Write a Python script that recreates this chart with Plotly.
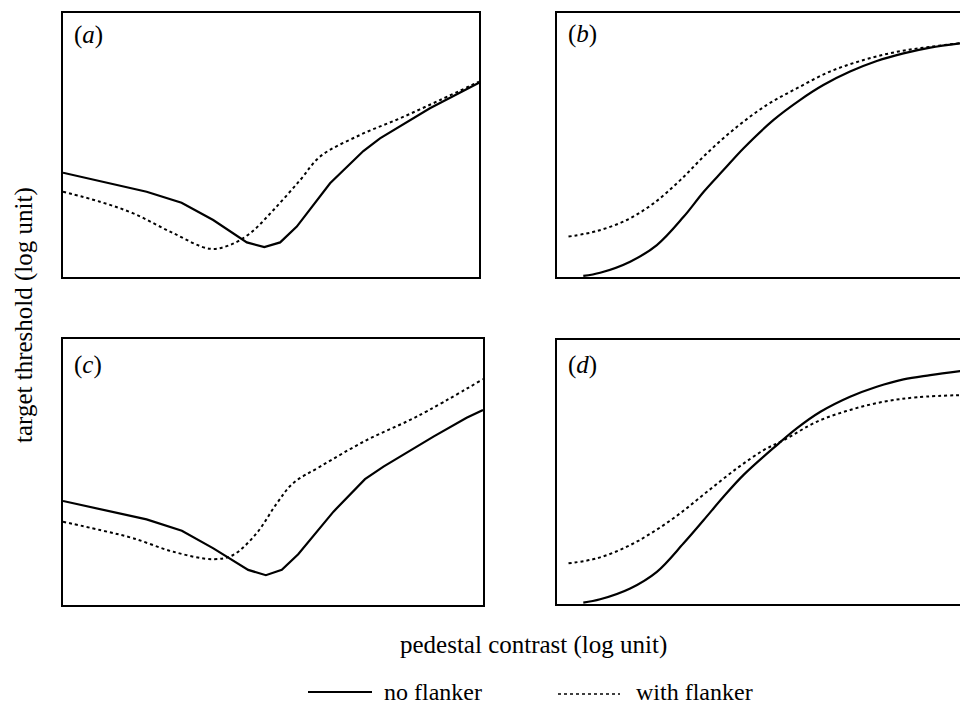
import plotly.graph_objects as go

# ---- data (arbitrary log units, 0..10 per panel) ----
a_solid_x = [0, 2.01, 2.85, 3.61, 4.42, 4.84, 5.22, 5.62, 6.42, 7.22, 7.62, 8.82, 10]
a_solid_y = [3.95, 3.23, 2.81, 2.16, 1.31, 1.13, 1.31, 1.91, 3.55, 4.77, 5.25, 6.39, 7.36]
a_dot_x = [0, 0.89, 1.69, 2.65, 3.53, 4.01, 4.50, 5.06, 5.70, 6.18, 7.14, 8.10, 9.06, 10]
a_dot_y = [3.23, 2.85, 2.41, 1.66, 1.07, 1.21, 1.66, 2.54, 3.67, 4.56, 5.38, 6.01, 6.70, 7.40]

b_solid_x = [0.64, 1.05, 1.78, 2.43, 3.08, 3.57, 4.05, 4.54, 5.27, 5.91, 6.48, 7.13, 7.78, 8.43, 9.08, 10]
b_solid_y = [0.04, 0.16, 0.58, 1.21, 2.28, 3.23, 4.05, 4.88, 5.95, 6.70, 7.27, 7.78, 8.18, 8.47, 8.69, 8.89]
b_dot_x = [0.28, 0.97, 1.70, 2.35, 3.00, 3.65, 4.38, 5.11, 5.84, 6.64, 7.46, 8.27, 9.08, 10]
b_dot_y = [1.53, 1.74, 2.16, 2.79, 3.67, 4.69, 5.69, 6.52, 7.15, 7.78, 8.22, 8.53, 8.72, 8.89]

c_solid_x = [0, 1.99, 2.83, 3.58, 4.41, 4.83, 5.21, 5.60, 6.44, 7.19, 7.63, 8.82, 9.61, 10]
c_solid_y = [3.91, 3.22, 2.79, 2.13, 1.32, 1.12, 1.32, 1.91, 3.51, 4.73, 5.20, 6.33, 7.04, 7.33]
c_dot_x = [0, 0.88, 1.67, 2.63, 3.58, 4.05, 4.61, 5.09, 5.48, 6.12, 7.23, 8.42, 10]
c_dot_y = [3.13, 2.82, 2.51, 2.00, 1.72, 1.88, 2.70, 3.82, 4.58, 5.20, 6.20, 7.08, 8.49]

d_solid_x = [0.64, 1.05, 1.78, 2.43, 3.08, 3.57, 4.05, 4.54, 5.35, 5.84, 6.41, 7.13, 7.78, 8.43, 9.08, 10]
d_solid_y = [0.05, 0.18, 0.59, 1.22, 2.30, 3.18, 4.06, 4.89, 6.02, 6.66, 7.28, 7.85, 8.23, 8.51, 8.67, 8.86]
d_dot_x = [0.28, 0.97, 1.70, 2.35, 3.00, 3.65, 4.38, 5.03, 5.52, 6.33, 7.13, 7.94, 8.76, 10]
d_dot_y = [1.54, 1.73, 2.17, 2.74, 3.44, 4.25, 5.14, 5.83, 6.21, 6.91, 7.35, 7.66, 7.83, 7.92]

panel_labels = ["(<i>a</i>)", "(<i>b</i>)", "(<i>c</i>)", "(<i>d</i>)"]
legend_labels = ["no flanker", "with flanker"]
x_title = "pedestal contrast (log unit)"
y_title = "target threshold (log unit)"

FONT = "Liberation Serif, Times New Roman, serif"
FS = 25

fig = go.Figure()

panels = [
    ("x", "y", a_solid_x, a_solid_y, a_dot_x, a_dot_y, "linear"),
    ("x2", "y2", b_solid_x, b_solid_y, b_dot_x, b_dot_y, "spline"),
    ("x3", "y3", c_solid_x, c_solid_y, c_dot_x, c_dot_y, "linear"),
    ("x4", "y4", d_solid_x, d_solid_y, d_dot_x, d_dot_y, "spline"),
]
for xa, ya, sx, sy, dx, dy, shape in panels:
    fig.add_trace(go.Scatter(x=sx, y=sy, xaxis=xa, yaxis=ya, mode="lines",
                             line=dict(color="black", width=2.2, shape=shape),
                             showlegend=False))
    fig.add_trace(go.Scatter(x=dx, y=dy, xaxis=xa, yaxis=ya, mode="lines",
                             line=dict(color="black", width=2, dash="dot", shape="spline"),
                             showlegend=False))

ax_common = dict(range=[0, 10], showgrid=False, zeroline=False, showticklabels=False,
                 ticks="", showline=True, linecolor="black", linewidth=2)

# page has an 8px body margin: the figure starts at (8, 8)
OFF = 8
W, H = 960, 698
def px_x(v):
    return (v - OFF) / W
def px_y(v):
    return 1 - (v - OFF) / H

layout = dict(
    width=W, height=H,
    margin=dict(l=0, r=0, t=0, b=0),
    paper_bgcolor="white", plot_bgcolor="white",
    font=dict(family=FONT, color="black", size=FS),
    xaxis=dict(ax_common, domain=[px_x(63), px_x(479)], anchor="y", mirror=True),
    yaxis=dict(ax_common, domain=[px_y(277), px_y(13)], anchor="x", mirror=True),
    xaxis2=dict(ax_common, domain=[px_x(557), 1.0], anchor="y2", mirror=True),
    yaxis2=dict(ax_common, domain=[px_y(277), px_y(13)], anchor="x2", mirror=False),
    xaxis3=dict(ax_common, domain=[px_x(63), px_x(483)], anchor="y3", mirror=True),
    yaxis3=dict(ax_common, domain=[px_y(605), px_y(339)], anchor="x3", mirror=True),
    xaxis4=dict(ax_common, domain=[px_x(557), 1.0], anchor="y4", mirror=True),
    yaxis4=dict(ax_common, domain=[px_y(604), px_y(340)], anchor="x4", mirror=False),
)
fig.update_layout(**layout)

label_pos = [("x", "y", 0.022, 0.915), ("x2", "y2", 0.022, 0.92),
             ("x3", "y3", 0.022, 0.902), ("x4", "y4", 0.022, 0.905)]
for (xa, ya, lx, ly), txt in zip(label_pos, panel_labels):
    fig.add_annotation(text=txt, xref=f"{xa} domain", yref=f"{ya} domain", x=lx, y=ly,
                       xanchor="left", yanchor="middle", showarrow=False,
                       font=dict(family=FONT, size=FS))

fig.add_annotation(text=y_title, xref="paper", yref="paper", x=px_x(24), y=px_y(315),
                   textangle=-90, showarrow=False, xanchor="center", yanchor="middle",
                   font=dict(family=FONT, size=FS))
fig.add_annotation(text=x_title, xref="paper", yref="paper", x=px_x(533), y=px_y(645),
                   showarrow=False, xanchor="center", yanchor="middle",
                   font=dict(family=FONT, size=FS))

# legend (kept fully inside the page)
LEG_Y = 692
fig.add_shape(type="line", xref="paper", yref="paper", x0=px_x(308), x1=px_x(372),
              y0=px_y(LEG_Y), y1=px_y(LEG_Y), line=dict(color="black", width=2.2))
fig.add_shape(type="line", xref="paper", yref="paper", x0=px_x(558), x1=px_x(620),
              y0=px_y(LEG_Y + 2), y1=px_y(LEG_Y + 2), line=dict(color="black", width=1.5, dash="dot"))
fig.add_annotation(text=legend_labels[0], xref="paper", yref="paper", x=px_x(383), y=0,
                   showarrow=False, xanchor="left", yanchor="bottom", borderpad=0,
                   font=dict(family=FONT, size=24))
fig.add_annotation(text=legend_labels[1], xref="paper", yref="paper", x=px_x(635), y=0,
                   showarrow=False, xanchor="left", yanchor="bottom", borderpad=0,
                   font=dict(family=FONT, size=24))

fig.write_html("out.html")
